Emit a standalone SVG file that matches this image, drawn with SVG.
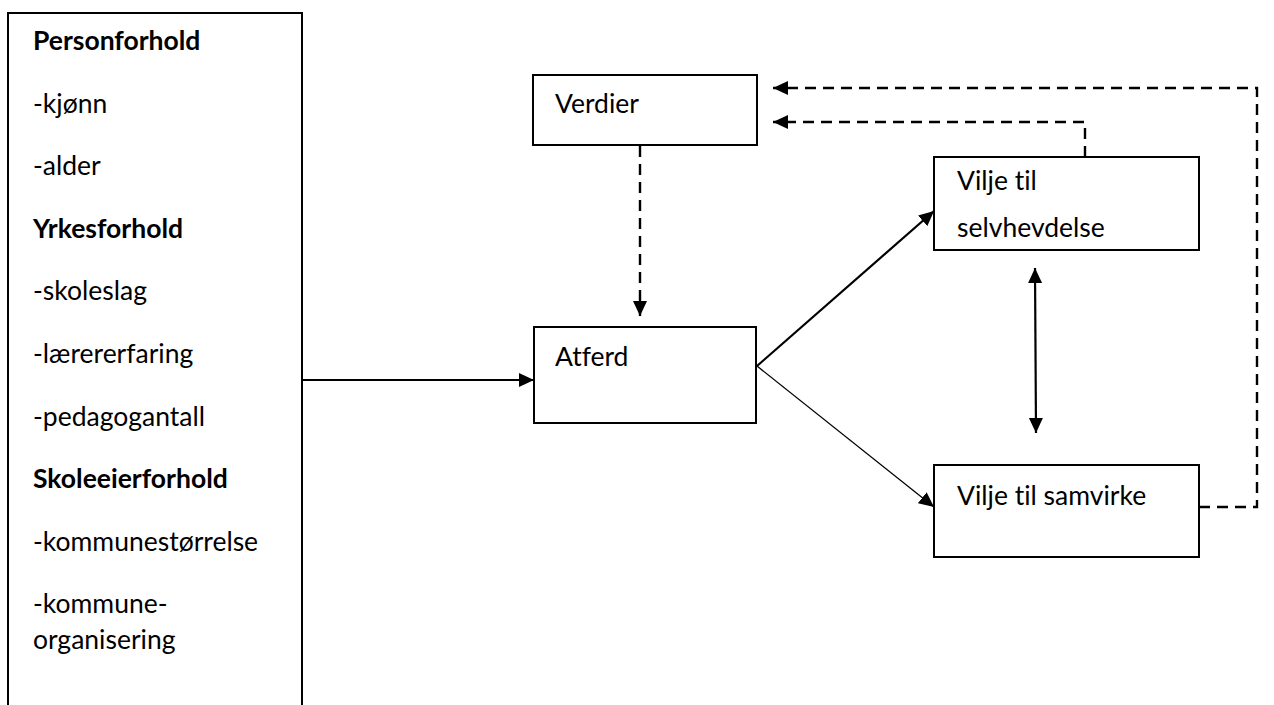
<svg xmlns="http://www.w3.org/2000/svg" width="1274" height="705" viewBox="0 0 1274 705">
<style>
  .box{fill:#fff;stroke:#000;stroke-width:2}
  .t{font-family:Lato,"Open Sans","Liberation Sans",sans-serif;font-size:26.5px;fill:#000;font-variant-ligatures:none;font-feature-settings:"liga" 0}
  .b{font-weight:bold}
  .ln{fill:none;stroke:#000;stroke-width:2.2}
  .thin{fill:none;stroke:#000;stroke-width:1.3}
  .dash{fill:none;stroke:#000;stroke-width:2.4;stroke-dasharray:11 7}
</style>
<defs>
  <marker id="ah" markerUnits="userSpaceOnUse" markerWidth="16" markerHeight="16" refX="15" refY="8" orient="auto-start-reverse" viewBox="0 0 16 16">
    <path d="M0,1 L15,8 L0,15 Z" fill="#000"/>
  </marker>
</defs>
<rect width="1274" height="705" fill="#fff"/>
<g id="factors">
  <rect class="box" x="8" y="13" width="294" height="720"/>
  <text class="t b" x="33" y="50">Personforhold</text>
  <text class="t" x="33" y="113">-kjønn</text>
  <text class="t" x="33" y="175">-alder</text>
  <text class="t b" x="33" y="238">Yrkesforhold</text>
  <text class="t" x="33" y="300">-skoleslag</text>
  <text class="t" x="33" y="363">-lærererfaring</text>
  <text class="t" x="33" y="426">-pedagogantall</text>
  <text class="t b" x="33" y="488">Skoleeierforhold</text>
  <text class="t" x="33" y="551">-kommunestørrelse</text>
  <text class="t" x="33" y="613">-kommune-</text>
  <text class="t" x="33" y="649">organisering</text>
</g>
<g id="verdier">
  <rect class="box" x="533" y="75" width="224" height="70"/>
  <text class="t" x="555" y="113">Verdier</text>
</g>
<g id="atferd">
  <rect class="box" x="534" y="327" width="222" height="96"/>
  <text class="t" x="555" y="366">Atferd</text>
</g>
<g id="selvhevdelse">
  <rect class="box" x="934" y="157" width="265" height="93"/>
  <text class="t" x="957" y="190">Vilje til</text>
  <text class="t" x="957" y="237">selvhevdelse</text>
</g>
<g id="samvirke">
  <rect class="box" x="934" y="465" width="265" height="92"/>
  <text class="t" x="957" y="505">Vilje til samvirke</text>
</g>
<g id="connectors">
  <line class="ln" x1="302" y1="380" x2="534" y2="380" marker-end="url(#ah)"/>
  <line class="dash" x1="640" y1="146" x2="640" y2="316" marker-end="url(#ah)"/>
  <line class="ln" x1="757" y1="366" x2="934" y2="211" marker-end="url(#ah)"/>
  <line class="thin" x1="757" y1="366" x2="934" y2="507" marker-end="url(#ah)"/>
  <line class="ln" x1="1035" y1="268" x2="1036" y2="433" marker-start="url(#ah)" marker-end="url(#ah)"/>
  <polyline class="dash" points="1085,157 1085,122 773,122" marker-end="url(#ah)"/>
  <polyline class="dash" points="1199,507 1257,507 1257,88 773,88" marker-end="url(#ah)"/>
</g>
</svg>
